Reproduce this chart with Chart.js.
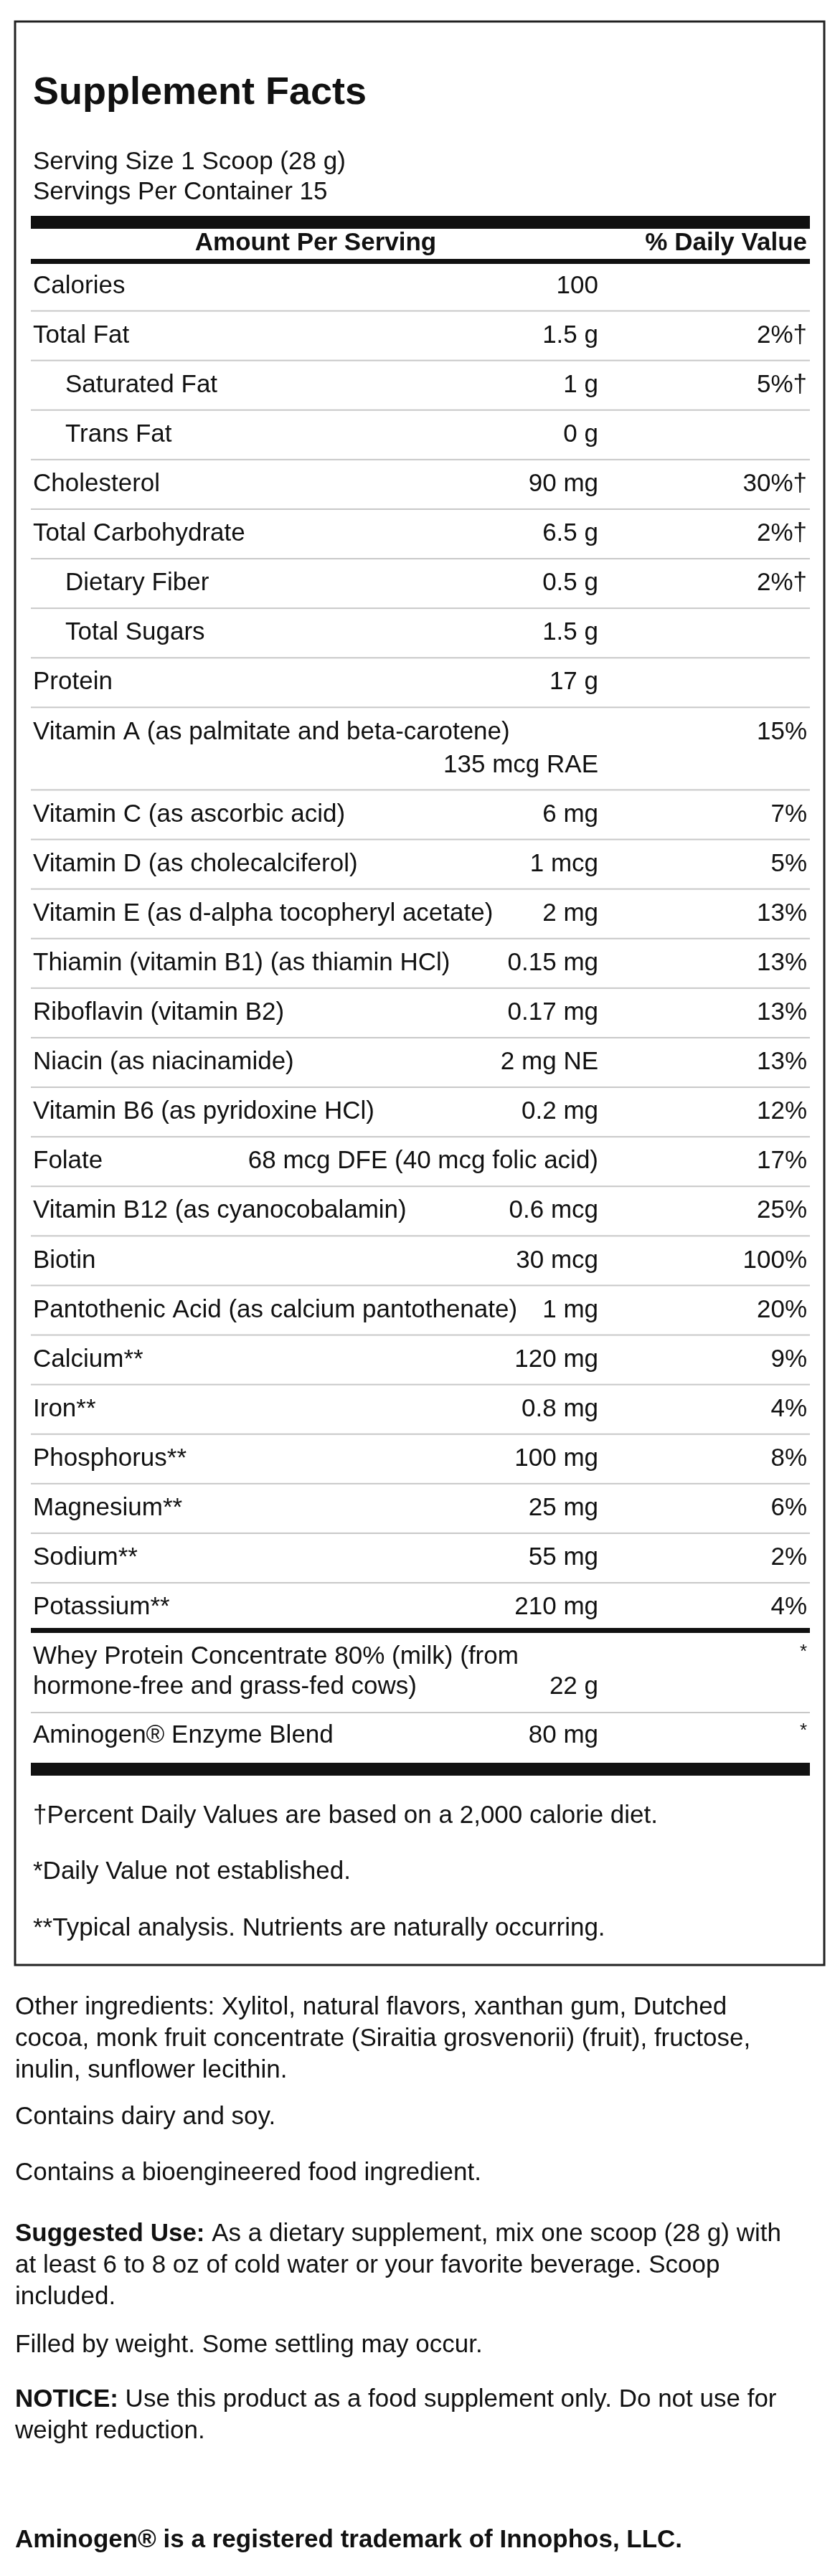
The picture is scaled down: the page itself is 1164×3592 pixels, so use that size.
<!DOCTYPE html>
<html>
<head>
<meta charset="utf-8">
<script src="https://cdn.jsdelivr.net/npm/chart.js@4/dist/chart.umd.min.js"></script>
<style>
  html, body { margin: 0; padding: 0; background: #fff; }
  canvas { display: block; }
</style>
</head>
<body>
<canvas id="label" width="1164" height="3592"></canvas>
<script>
// Données du tableau
const nutrients = [
    ["Calories"], ["Total Fat"], ["Saturated Fat"], ["Trans Fat"], ["Cholesterol"],
    ["Total Carbohydrate"], ["Dietary Fiber"], ["Total Sugars"], ["Protein"],
    ["Vitamin A (as palmitate and beta-carotene)", ""],
    ["Vitamin C (as ascorbic acid)"], ["Vitamin D (as cholecalciferol)"],
    ["Vitamin E (as d-alpha tocopheryl acetate)"], ["Thiamin (vitamin B1) (as thiamin HCl)"],
    ["Riboflavin (vitamin B2)"], ["Niacin (as niacinamide)"], ["Vitamin B6 (as pyridoxine HCl)"],
    ["Folate"], ["Vitamin B12 (as cyanocobalamin)"], ["Biotin"],
    ["Pantothenic Acid (as calcium pantothenate)"], ["Calcium**"], ["Iron**"],
    ["Phosphorus**"], ["Magnesium**"], ["Sodium**"], ["Potassium**"]
];
const amounts = ["100", "1.5 g", "1 g", "0 g", "90 mg", "6.5 g", "0.5 g", "1.5 g", "17 g",
    "135 mcg RAE", "6 mg", "1 mcg", "2 mg", "0.15 mg", "0.17 mg", "2 mg NE", "0.2 mg",
    "68 mcg DFE (40 mcg folic acid)", "0.6 mcg", "30 mcg", "1 mg", "120 mg", "0.8 mg",
    "100 mg", "25 mg", "55 mg", "210 mg"];
const dailyValues = ["", "2%†", "5%†", "", "30%†", "2%†", "2%†", "", "",
    "15%", "7%", "5%", "13%", "13%", "13%", "13%", "12%", "17%", "25%", "100%", "20%",
    "9%", "4%", "8%", "6%", "2%", "4%"];
const indented = [2, 3, 6, 7];

const blendLabels = [["Whey Protein Concentrate 80% (milk) (from", "hormone-free and grass-fed cows)"],
    ["Aminogen® Enzyme Blend"]];
const blendAmounts = ["22 g", "80 mg"];
const blendValues = ["*", "*"];

const footnotes = ["†Percent Daily Values are based on a 2,000 calorie diet.",
    "*Daily Value not established.",
    "**Typical analysis. Nutrients are naturally occurring."];

// Texte sous le cadre : [gras, normal] par ligne
const belowText = [
    [["", "Other ingredients: Xylitol, natural flavors, xanthan gum, Dutched"],
     ["", "cocoa, monk fruit concentrate (Siraitia grosvenorii) (fruit), fructose,"],
     ["", "inulin, sunflower lecithin."]],
    [["", "Contains dairy and soy."]],
    [["", "Contains a bioengineered food ingredient."]],
    [["Suggested Use: ", "As a dietary supplement, mix one scoop (28 g) with"],
     ["", "at least 6 to 8 oz of cold water or your favorite beverage. Scoop"],
     ["", "included."]],
    [["", "Filled by weight. Some settling may occur."]],
    [["NOTICE: ", "Use this product as a food supplement only. Do not use for"],
     ["", "weight reduction."]]
];
const trademark = "Aminogen® is a registered trademark of Innophos, LLC.";

const FONT = '"Liberation Sans", Arial, sans-serif';

// Plugin de dessin du panneau
const factsPanel = {
    id: 'factsPanel',
    afterDraw(chart) {
        const ctx = chart.ctx;
        const X = v => chart.scales.x.getPixelForValue(v);
        const Y = v => chart.scales.y.getPixelForValue(v);
        const L = 46, AMT = 834, DV = 1125;

        ctx.save();
        ctx.fillStyle = '#111';
        ctx.textBaseline = 'middle';

        // Cadre
        ctx.strokeStyle = '#222';
        ctx.lineWidth = 3;
        ctx.strokeRect(X(21), Y(30), X(1149) - X(21), Y(2740) - Y(30));

        const text = (s, x, y, align, bold, size) => {
            ctx.font = (bold ? 'bold ' : '') + (size || 35) + 'px ' + FONT;
            ctx.textAlign = align || 'left';
            ctx.fillText(s, X(x), Y(y));
        };
        const bar = (y0, y1) => ctx.fillRect(X(43), Y(y0), X(1129) - X(43), Y(y1) - Y(y0));
        const rule = y => {
            ctx.fillStyle = '#c8c8c8';
            ctx.fillRect(X(43), Y(y), X(1129) - X(43), 2);
            ctx.fillStyle = '#111';
        };

        text("Supplement Facts", L, 130, 'left', true, 54);
        text("Serving Size 1 Scoop (28 g)", L, 226);
        text("Servings Per Container 15", L, 268);
        bar(301, 319);
        text("Amount Per Serving", 440, 339, 'center', true);
        text("% Daily Value", DV, 339, 'right', true);
        bar(361, 368);

        // Lignes de nutriments
        const pitch = 69.1, lineGap = 46;
        let y = 399;
        nutrients.forEach((row, i) => {
            const x = indented.includes(i) ? 91 : L;
            text(row[0], x, y);
            const last = y + (row.length - 1) * lineGap;
            text(amounts[i], AMT, last, 'right');
            text(dailyValues[i], DV, y, 'right');
            const next = last + pitch;
            if (i < nutrients.length - 1) rule((last + next) / 2 - 1);
            y = next;
        });

        bar(2270, 2277);
        let by = 2310;
        blendLabels.forEach((lines, i) => {
            lines.forEach((s, k) => text(s, L, by + k * 42));
            const last = by + (lines.length - 1) * 42;
            text(blendAmounts[i], AMT, last, 'right');
            text(blendValues[i], DV, by - 6, 'right', false, 26);
            if (i === 0) rule(2387);
            by = 2420;
        });
        bar(2458, 2476);

        [2532, 2610, 2689].forEach((fy, i) => text(footnotes[i], L, fy));

        // Texte hors cadre
        const blockY = [2799, 2952, 3030, 3115, 3270, 3346];
        belowText.forEach((block, b) => {
            block.forEach((parts, k) => {
                const ly = blockY[b] + k * 44;
                let x = 21;
                if (parts[0]) {
                    text(parts[0], x, ly, 'left', true);
                    x += ctx.measureText(parts[0]).width;
                }
                text(parts[1], x, ly);
            });
        });
        text(trademark, 21, 3542, 'left', true);
        ctx.restore();
    }
};

new Chart(document.getElementById('label'), {
    type: 'scatter',
    data: { datasets: [{ data: [] }] },
    options: {
        responsive: false,
        animation: false,
        devicePixelRatio: 1,
        layout: { padding: 0 },
        plugins: { legend: { display: false }, tooltip: { enabled: false } },
        scales: {
            x: { type: 'linear', min: 0, max: 1164, display: false },
            y: { type: 'linear', min: 0, max: 3592, reverse: true, display: false }
        }
    },
    plugins: [factsPanel]
});
</script>
</body>
</html>
